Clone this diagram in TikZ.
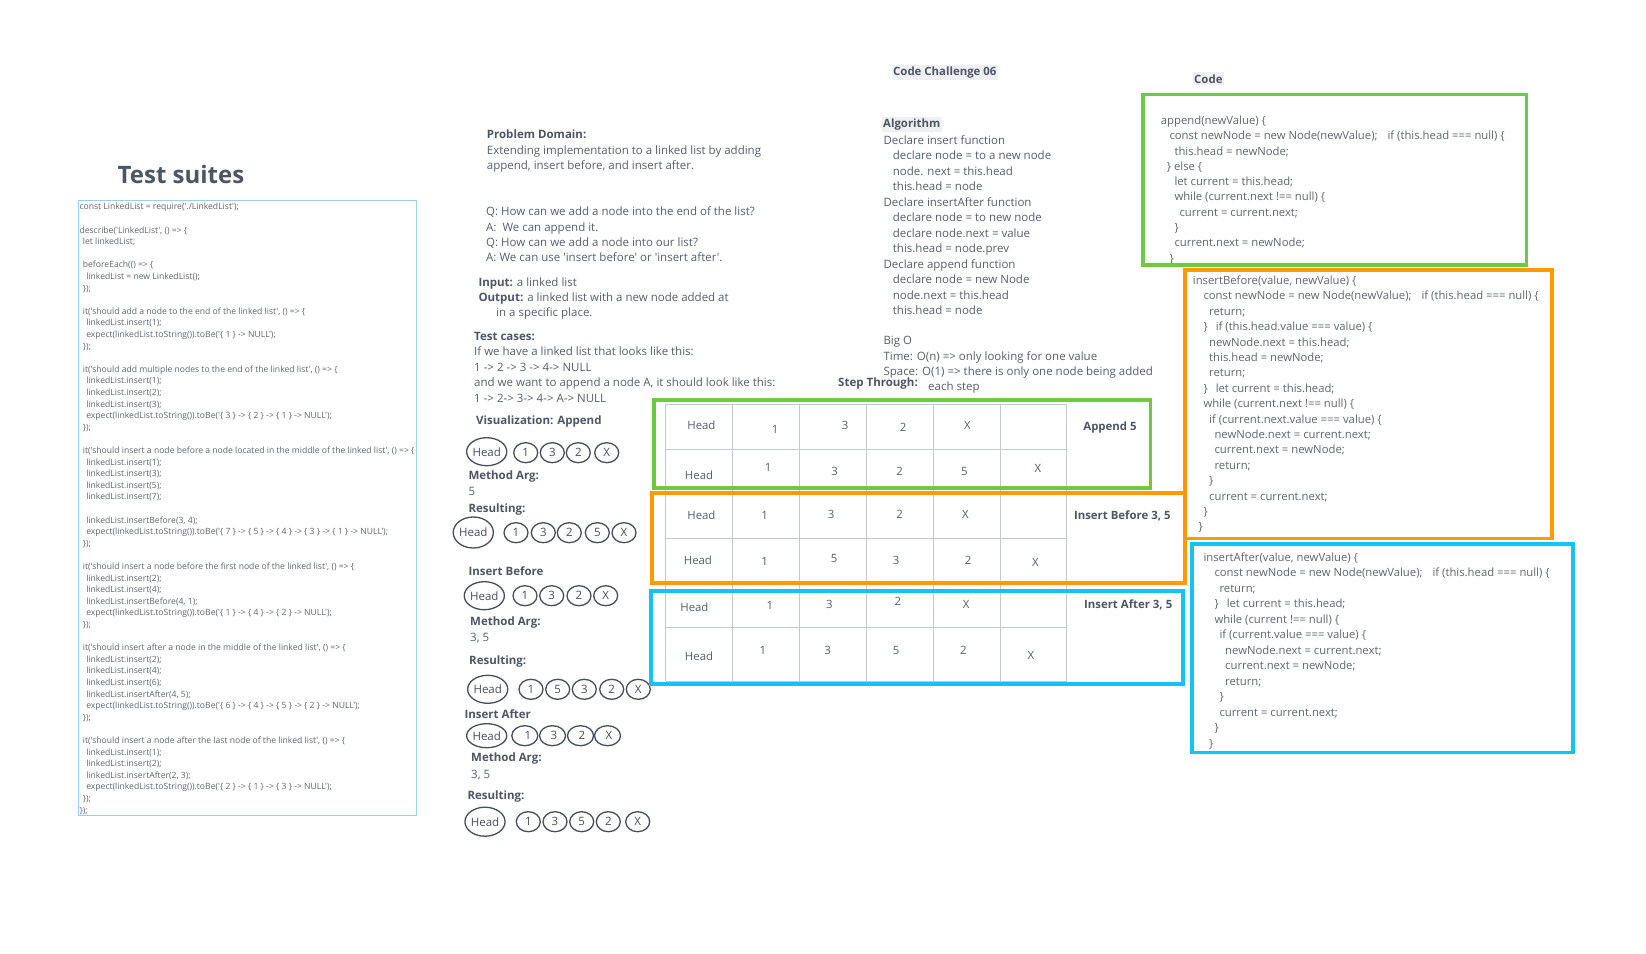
\documentclass[tikz,border=0pt]{standalone}
\usepackage{fontspec}
\setmainfont{Open Sans}[Ligatures=TeXOff]
\usetikzlibrary{shapes.geometric}
\definecolor{textc}{HTML}{575D6B}
\definecolor{boldc}{HTML}{4E5564}
\definecolor{codec}{HTML}{60646D}
\definecolor{gridc}{HTML}{C4C7CE}
\definecolor{greenc}{HTML}{6BCB3D}
\definecolor{orangec}{HTML}{FF9A00}
\definecolor{bluec}{HTML}{16C1F3}
\definecolor{tsc}{HTML}{9CCBF3}
\definecolor{circc}{HTML}{474D5B}
\definecolor{hlc}{HTML}{EEF0F2}
\newcommand{\myind}[1]{\hspace*{#1pt}}
\newcommand{\hb}[1]{\textcolor{boldc}{\textbf{#1}}}
\begin{document}
\begin{tikzpicture}[x=1pt,y=-1pt,
  txt/.style={anchor=north west, inner sep=0pt, align=left, text=textc, font=\fontsize{11.5}{15.4}\selectfont},
  lbl/.style={anchor=west, inner sep=0pt, text=textc, font=\fontsize{11.5}{13}\selectfont},
  blbl/.style={anchor=west, inner sep=0pt, text=boldc, font=\fontsize{11.5}{13}\selectfont\bfseries},
  hl/.style={anchor=west, inner xsep=1.5pt, inner ysep=2pt, fill=hlc, text=boldc, font=\fontsize{11.4}{13}\selectfont\bfseries},
  code/.style={anchor=north west, inner sep=0pt, align=left, text=codec, font=\fontsize{11.3}{15.4}\selectfont},
  cell/.style={inner sep=0pt, text=textc, font=\fontsize{11.4}{13}\selectfont},
  tlab/.style={inner sep=0pt, text=boldc, font=\fontsize{11.4}{13}\selectfont\bfseries},
  ln/.style={ellipse, draw=circc, line width=1.3pt, inner sep=0pt, minimum width=24pt, minimum height=20pt, text=circc, font=\fontsize{11.5}{13}\selectfont},
  hn/.style={ln, minimum width=38pt, minimum height=28pt},
  frame/.style={line width=3.5pt}
]
\useasboundingbox[fill=white] (0,0) rectangle (1646,953);

% ---------------- Test suites ----------------
\node[anchor=center, inner sep=0pt, text=boldc, font=\fontsize{24}{28}\selectfont\bfseries] (tstitle) at (181,174) {Test suites};
\draw[tsc, line width=1pt] (78,200) rectangle (416.5,815.5);
\node[anchor=north west, inner sep=0pt, align=left, text=codec, font=\fontsize{8.6}{11.6}\selectfont] (tscode) at (79.3,203.2) {%
const LinkedList = require('./LinkedList');\\
\mbox{}\\
describe('LinkedList', () => \{\\
\myind{3.4}let linkedList;\\
\mbox{}\\
\myind{3.4}beforeEach(() => \{\\
\myind{6.8}linkedList = new LinkedList();\\
\myind{3.4}\});\\
\mbox{}\\
\myind{3.4}it('should add a node to the end of the linked list', () => \{\\
\myind{6.8}linkedList.insert(1);\\
\myind{6.8}expect(linkedList.toString()).toBe('\{ 1 \} -> NULL');\\
\myind{3.4}\});\\
\mbox{}\\
\myind{3.4}it('should add multiple nodes to the end of the linked list', () => \{\\
\myind{6.8}linkedList.insert(1);\\
\myind{6.8}linkedList.insert(2);\\
\myind{6.8}linkedList.insert(3);\\
\myind{6.8}expect(linkedList.toString()).toBe('\{ 3 \} -> \{ 2 \} -> \{ 1 \} -> NULL');\\
\myind{3.4}\});\\
\mbox{}\\
\myind{3.4}it('should insert a node before a node located in the middle of the linked list', () => \{\\
\myind{6.8}linkedList.insert(1);\\
\myind{6.8}linkedList.insert(3);\\
\myind{6.8}linkedList.insert(5);\\
\myind{6.8}linkedList.insert(7);\\
\mbox{}\\
\myind{6.8}linkedList.insertBefore(3, 4);\\
\myind{6.8}expect(linkedList.toString()).toBe('\{ 7 \} -> \{ 5 \} -> \{ 4 \} -> \{ 3 \} -> \{ 1 \} -> NULL');\\
\myind{3.4}\});\\
\mbox{}\\
\myind{3.4}it('should insert a node before the first node of the linked list', () => \{\\
\myind{6.8}linkedList.insert(2);\\
\myind{6.8}linkedList.insert(4);\\
\myind{6.8}linkedList.insertBefore(4, 1);\\
\myind{6.8}expect(linkedList.toString()).toBe('\{ 1 \} -> \{ 4 \} -> \{ 2 \} -> NULL');\\
\myind{3.4}\});\\
\mbox{}\\
\myind{3.4}it('should insert after a node in the middle of the linked list', () => \{\\
\myind{6.8}linkedList.insert(2);\\
\myind{6.8}linkedList.insert(4);\\
\myind{6.8}linkedList.insert(6);\\
\myind{6.8}linkedList.insertAfter(4, 5);\\
\myind{6.8}expect(linkedList.toString()).toBe('\{ 6 \} -> \{ 4 \} -> \{ 5 \} -> \{ 2 \} -> NULL');\\
\myind{3.4}\});\\
\mbox{}\\
\myind{3.4}it('should insert a node after the last node of the linked list', () => \{\\
\myind{6.8}linkedList.insert(1);\\
\myind{6.8}linkedList.insert(2);\\
\myind{6.8}linkedList.insertAfter(2, 3);\\
\myind{6.8}expect(linkedList.toString()).toBe('\{ 2 \} -> \{ 1 \} -> \{ 3 \} -> NULL');\\
\myind{3.4}\});\\
\});};

% ---------------- Middle column ----------------
\node[txt] (pd) at (486.7,130) {\hb{Problem Domain:}\\ Extending implementation to a linked list by adding\\ append, insert before, and insert after.};
\node[txt, font=\fontsize{11.5}{15.3}\selectfont] (qa) at (486,206.7) {Q: How can we add a node into the end of the list?\\ A:\ \ We can append it.\\ Q: How can we add a node into our list?\\ A: We can use 'insert before' or 'insert after'.};
\node[txt, font=\fontsize{11.5}{15.2}\selectfont] (io) at (478.3,277.3) {\hb{Input:} a linked list\\ \hb{Output:} a linked list with a new node added at\\ \myind{17.7}in a specific place.};
\node[txt, font=\fontsize{11.5}{15.6}\selectfont] (tc) at (474,331.7) {\hb{Test cases:}\\ If we have a linked list that looks like this:\\ 1 -> 2 -> 3 -> 4-> NULL\\ and we want to append a node A, it should look like this:\\ 1 -> 2-> 3-> 4-> A-> NULL};
\node[blbl] (visapp) at (476,421.5) {Visualization: Append};

\node[hn] (a0) at (486.7,451.7) {Head};
\node[ln] (a1) at (525.7,452.7) {1};
\node[ln] (a2) at (552.3,452.7) {3};
\node[ln] (a3) at (578.3,452.7) {2};
\node[ln] (a4) at (606.7,452.7) {X};
\node[blbl] (ma1) at (468.3,476.5) {Method Arg:};
\node[lbl] (mv1) at (468.3,491.5) {5};
\node[blbl] (rs1) at (468.3,509.5) {Resulting:};
\node[hn, minimum width=34pt, minimum height=31pt] (b0) at (473.3,532.5) {Head};
\node[ln] (b1) at (516,532.7) {1};
\node[ln] (b2) at (543.3,532.7) {3};
\node[ln] (b3) at (569.3,532.7) {2};
\node[ln] (b4) at (597.3,532.7) {5};
\node[ln] (b5) at (624,532.7) {X};

\node[blbl] (ib) at (468.3,571.5) {Insert Before};
\node[hn, minimum width=34pt] (c0) at (484.3,595.7) {Head};
\node[ln] (c1) at (525,595.7) {1};
\node[ln] (c2) at (551.7,595.7) {3};
\node[ln] (c3) at (579,595.7) {2};
\node[ln] (c4) at (605.7,595.7) {X};
\node[blbl] (ma2) at (470,622.2) {Method Arg:};
\node[lbl] (mv2) at (470,637.8) {3, 5};
\node[blbl] (rs2) at (469,661.2) {Resulting:};
\node[hn, minimum width=34pt] (d0) at (487.7,689.3) {Head};
\node[ln] (d1) at (531,689.3) {1};
\node[ln] (d2) at (557.7,689.3) {5};
\node[ln] (d3) at (584.3,689.3) {3};
\node[ln] (d4) at (611.7,689.3) {2};
\node[ln] (d5) at (638.3,689.3) {X};

\node[blbl] (ia) at (464.3,714.5) {Insert After};
\node[hn, minimum width=33pt, minimum height=24pt] (e0) at (486.7,735.7) {Head};
\node[ln, minimum width=26pt] (e1) at (524.8,735.7) {\ \ 1};
\node[ln, minimum width=26pt] (e2) at (552.5,735.7) {\ 3};
\node[ln, minimum width=26pt] (e3) at (580.5,735.7) {\ 2};
\node[ln, minimum width=26pt] (e4) at (607.5,735.7) {\ X};
\node[blbl] (ma3) at (471,758.8) {Method Arg:};
\node[lbl] (mv3) at (471,775.5) {3, 5};
\node[blbl] (rs3) at (467.3,796.5) {Resulting:};
\node[hn, minimum width=36pt, minimum height=29pt] (f0) at (485,821.7) {Head};
\node[ln] (f1) at (528.3,821.7) {1};
\node[ln] (f2) at (555,821.7) {3};
\node[ln] (f3) at (581.7,821.7) {5};
\node[ln] (f4) at (608.3,821.7) {2};
\node[ln] (f5) at (637.7,821.7) {X};

% ---------------- Algorithm column ----------------
\node[hl] (cc) at (891.5,72.5) {Code Challenge 06};
\node[hl] (alg) at (881.5,124.5) {Algorithm};
\node[txt, font=\fontsize{11.5}{15.45}\selectfont] (algtxt) at (883.3,135.5) {Declare insert function\\
\myind{9.4}declare node = to a new node\\
\myind{9.4}node. next = this.head\\
\myind{9.4}this.head = node\\
Declare insertAfter function\\
\myind{9.4}declare node = to new node\\
\myind{9.4}declare node.next = value\\
\myind{9.4}this.head = node.prev\\
Declare append function\\
\myind{9.4}declare node = new Node\\
\myind{9.4}node.next = this.head\\
\myind{9.4}this.head = node};
\node[txt, font=\fontsize{11.5}{15.3}\selectfont] (bigo) at (883.3,336.2) {Big O\\ Time: O(n) => only looking for one value\\ Space: O(1) => there is only one node being added};
\node[blbl] (st) at (838,383.5) {Step Through:};
\node[lbl] (stv) at (928,387.5) {each step};

% ---------------- Table ----------------
\foreach \yy in {404,449,493,538,591,627,681} \draw[gridc, line width=1pt] (665.5,\yy) -- (1066.5,\yy);
\foreach \xx in {665.5,732.7,799.9,866,933.2,1000.4,1066.5} \draw[gridc, line width=1pt] (\xx,404) -- (\xx,681);

\node[cell] (r1c0) at (701.4,425.7) {Head};
\node[cell] (r1c1) at (775,429) {1};
\node[cell] (r1c2) at (845.2,425.7) {3};
\node[cell] (r1c3) at (903,427.7) {2};
\node[cell] (r1c4) at (967.3,425.7) {X};
\node[tlab] (r1l) at (1110,427.7) {Append 5};
\node[cell] (r2c0) at (699,475.7) {Head};
\node[cell] (r2c1) at (768,467.7) {1};
\node[cell] (r2c2) at (834.7,471.7) {3};
\node[cell] (r2c3) at (899.6,471) {2};
\node[cell] (r2c4) at (964.4,471) {5};
\node[cell] (r2c5) at (1038,468.3) {X};

\node[cell] (r3c0) at (701.4,515) {Head};
\node[cell] (r3c1) at (764.5,515.7) {1};
\node[cell] (r3c2) at (831,514.3) {3};
\node[cell] (r3c3) at (899.6,514.3) {2};
\node[cell] (r3c4) at (965.5,514.3) {X};
\node[tlab] (r3l) at (1122.3,515.7) {Insert Before 3, 5};
\node[cell] (r4c0) at (697.9,560.7) {Head};
\node[cell] (r4c1) at (764.5,561.7) {1};
\node[cell] (r4c2) at (834,558.3) {5};
\node[cell] (r4c3) at (896,560) {3};
\node[cell] (r4c4) at (968,560) {2};
\node[cell] (r4c5) at (1035.3,562.3) {X};

\node[cell] (r5c0) at (694.4,607.3) {Head};
\node[cell] (r5c1) at (769.8,605.7) {1};
\node[cell] (r5c2) at (829.4,604) {3};
\node[cell] (r5c3) at (897.8,601) {2};
\node[cell] (r5c4) at (966.2,604) {X};
\node[tlab] (r5l) at (1128.2,605) {Insert After 3, 5};
\node[cell] (r6c0) at (699,656.7) {Head};
\node[cell] (r6c1) at (762.8,650) {1};
\node[cell] (r6c2) at (827.7,650) {3};
\node[cell] (r6c3) at (896,650) {5};
\node[cell] (r6c4) at (963.4,650) {2};
\node[cell] (r6c5) at (1031,655.7) {X};

\draw[frame, greenc] (654,400) rectangle (1150.5,488);
\draw[frame, orangec] (652,493) rectangle (1185,583);
\draw[frame, bluec] (651,591) rectangle (1183,684);

% ---------------- Code column ----------------
\node[hl] (codet) at (1192.5,78.8) {Code};
\node[code, font=\fontsize{11.3}{15.3}\selectfont] (appcode) at (1160.7,115.7) {append(newValue) \{\\
\myind{8.6}const newNode = new Node(newValue);\hspace{10pt}if (this.head === null) \{\\
\myind{13.6}this.head = newNode;\\
\myind{6}\} else \{\\
\myind{13.6}let current = this.head;\\
\myind{13.6}while (current.next !== null) \{\\
\myind{18.6}current = current.next;\\
\myind{13.6}\}\\
\myind{13.6}current.next = newNode;\\
\myind{8.6}\}};
\draw[frame, greenc] (1143,94.5) rectangle (1526.5,265);

\node[code, font=\fontsize{11.3}{15.4}\selectfont] (bcode) at (1192.7,275.7) {insertBefore(value, newValue) \{\\
\myind{10.6}const newNode = new Node(newValue);\hspace{10pt}if (this.head === null) \{\\
\myind{16.3}return;\\
\myind{10.6}\}\hspace{8pt}if (this.head.value === value) \{\\
\myind{16.3}newNode.next = this.head;\\
\myind{16.3}this.head = newNode;\\
\myind{16.3}return;\\
\myind{10.6}\}\hspace{8pt}let current = this.head;\\
\myind{10.6}while (current.next !== null) \{\\
\myind{16.3}if (current.next.value === value) \{\\
\myind{21.6}newNode.next = current.next;\\
\myind{21.6}current.next = newNode;\\
\myind{21.6}return;\\
\myind{16.3}\}\\
\myind{16.3}current = current.next;\\
\myind{10.6}\}\\
\myind{5.6}\}};
\draw[frame, orangec] (1185,270) rectangle (1552,538.5);

\node[code, font=\fontsize{11.3}{15.5}\selectfont] (acode) at (1203.3,552.3) {insertAfter(value, newValue) \{\\
\myind{11}const newNode = new Node(newValue);\hspace{10pt}if (this.head === null) \{\\
\myind{16}return;\\
\myind{11}\}\hspace{8pt}let current = this.head;\\
\myind{11}while (current !== null) \{\\
\myind{16}if (current.value === value) \{\\
\myind{21.7}newNode.next = current.next;\\
\myind{21.7}current.next = newNode;\\
\myind{21.7}return;\\
\myind{16}\}\\
\myind{16}current = current.next;\\
\myind{11}\}\\
\myind{5.7}\}};
\draw[frame, bluec] (1192,544) rectangle (1573,752.5);
\end{tikzpicture}
\end{document}
